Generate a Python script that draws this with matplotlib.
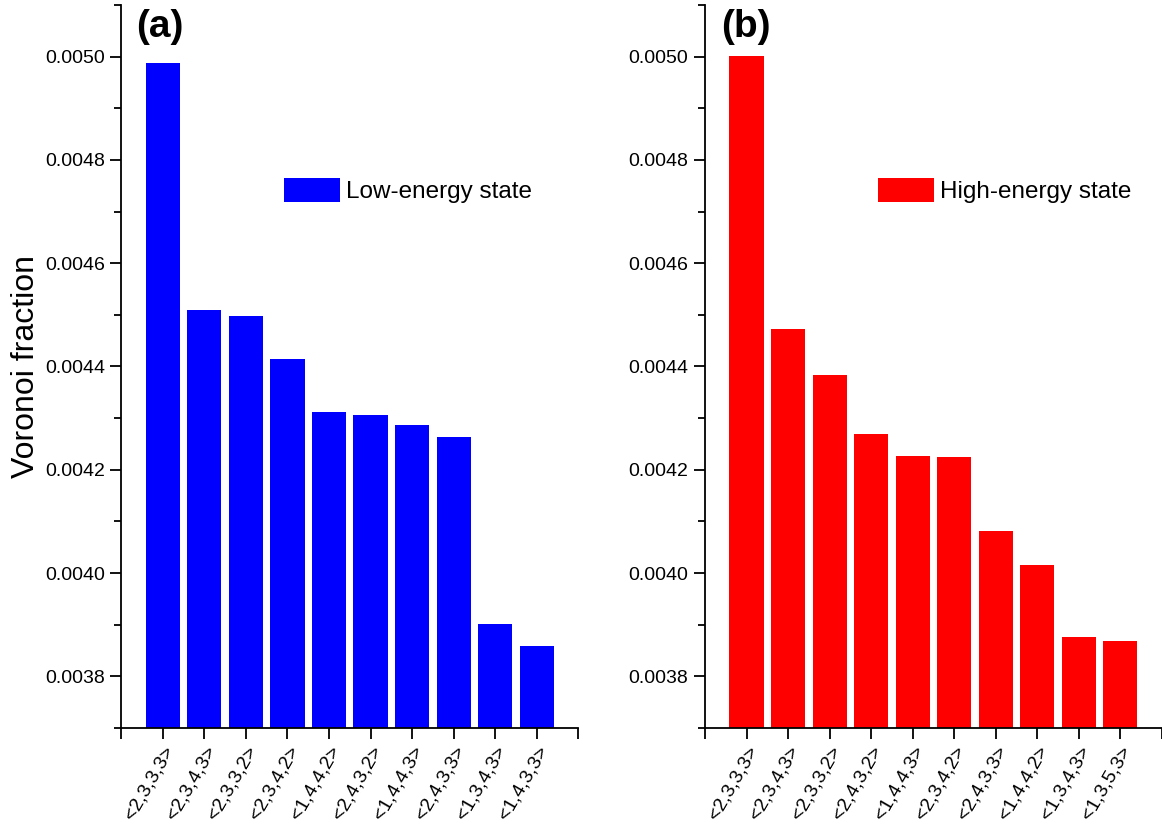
import matplotlib
matplotlib.use("Agg")
import matplotlib.pyplot as plt
from matplotlib.ticker import MultipleLocator, FixedLocator
import numpy as np

plt.rcParams['font.family'] = ['Liberation Sans', 'DejaVu Sans']

# low-energy state (a)
labels_low = ["<2,3,3,3>", "<2,3,4,3>", "<2,3,3,2>", "<2,3,4,2>", "<1,4,4,2>",
              "<2,4,3,2>", "<1,4,4,3>", "<2,4,3,3>", "<1,3,4,3>", "<1,4,3,3>"]
values_low = [0.004988, 0.004509, 0.004497, 0.004414, 0.004311,
              0.004307, 0.004286, 0.004263, 0.003901, 0.003858]

# high-energy state (b)
labels_high = ["<2,3,3,3>", "<2,3,4,3>", "<2,3,3,2>", "<2,4,3,2>", "<1,4,4,3>",
               "<2,3,4,2>", "<2,4,3,3>", "<1,4,4,2>", "<1,3,4,3>", "<1,3,5,3>"]
values_high = [0.005001, 0.004472, 0.004383, 0.004270, 0.004226,
               0.004224, 0.004081, 0.004015, 0.003877, 0.003868]

fig = plt.figure(figsize=(11.62, 8.24), dpi=100)
ax1 = fig.add_axes([0.1045, 0.1165, 0.393, 0.8775])
ax2 = fig.add_axes([0.6067, 0.1165, 0.393, 0.8775])


def draw(ax, labels, values, color, name, tag, leg_x, tag_x):
    x = np.arange(1, len(values) + 1)
    ax.bar(x, values, width=0.82, color=color, edgecolor="none", label=name)
    ax.set_xlim(0, 11)
    ax.set_ylim(0.0037, 0.0051)
    for s in ["top", "right"]:
        ax.spines[s].set_visible(False)
    for s in ["left", "bottom"]:
        ax.spines[s].set_linewidth(1.3)
    ax.xaxis.set_major_locator(FixedLocator(range(0, 12)))
    ax.set_xticklabels([""] + labels + [""], rotation=60, ha="right",
                       va="top", rotation_mode="anchor", fontsize=14)
    # nudge rotated labels slightly right, like the original
    for lab in ax.get_xticklabels():
        lab.set_transform(lab.get_transform() +
                          matplotlib.transforms.ScaledTranslation(0.06, 0, fig.dpi_scale_trans))
    ax.yaxis.set_major_locator(FixedLocator(np.arange(0.0038, 0.00501, 0.0002)))
    ax.yaxis.set_minor_locator(MultipleLocator(0.0001))
    ax.yaxis.set_major_formatter(matplotlib.ticker.FormatStrFormatter("%.4f"))
    ax.tick_params(axis="both", which="major", direction="out", length=8,
                   width=1.3, labelsize=14, pad=4)
    ax.tick_params(axis="x", pad=3)
    ax.tick_params(axis="y", which="minor", direction="out", length=5, width=1.3)
    ax.legend(loc="center left", bbox_to_anchor=(leg_x, 0.743), frameon=False,
              fontsize=17.5, handlelength=2.3, handleheight=1.1,
              handletextpad=0.25, borderpad=0, borderaxespad=0)
    ax.text(tag_x, 0.97, tag, transform=ax.transAxes, fontsize=28,
            fontweight="bold", ha="center", va="center")


draw(ax1, labels_low, values_low, "#0000ff", "Low-energy state", "(a)", 0.357, 0.083)
draw(ax2, labels_high, values_high, "#ff0000", "High-energy state", "(b)", 0.379, 0.09)
ax1.set_ylabel("Voronoi fraction", fontsize=23, labelpad=3)

fig.savefig("out.png", dpi=100)
